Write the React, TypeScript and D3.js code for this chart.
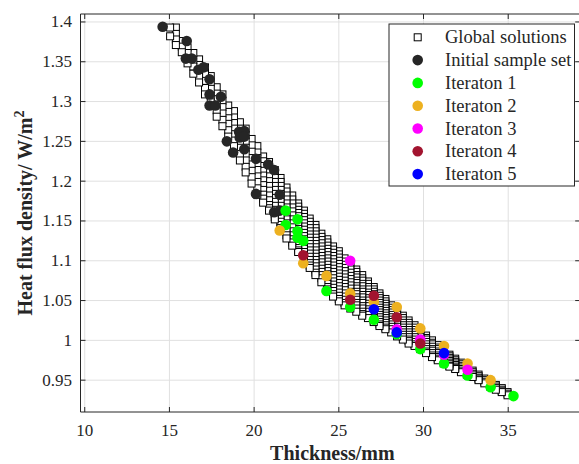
import React from 'react';
import * as d3 from 'd3';

const xTicks = [10, 15, 20, 25, 30, 35];
const yTicks = [0.95, 1, 1.05, 1.1, 1.15, 1.2, 1.25, 1.3, 1.35, 1.4];
const yTickLabels = ['0.95', '1', '1.05', '1.1', '1.15', '1.2', '1.25', '1.3', '1.35', '1.4'];

// Global solutions: thickness of each column and the heat-flux values of its squares
const globalThickness = [
  34.96, 34.62, 34.27, 33.93, 33.59, 33.25, 32.90, 32.56, 32.21, 31.87,
  31.53, 31.19, 30.84, 30.50, 30.15, 29.81, 29.47, 29.12, 28.78, 28.44,
  28.09, 27.75, 27.40, 27.06, 26.72, 26.38, 26.03, 25.68, 25.34, 25.00,
  24.66, 24.32, 23.97, 23.62, 23.28, 22.94, 22.60, 22.25, 21.91, 21.56,
  21.22, 20.88, 20.53, 20.19, 19.85, 19.50, 19.16, 18.81, 18.47, 18.13,
  17.79, 17.44, 17.10, 16.75, 16.41, 16.07, 15.73, 15.38, 15.04,
];
const globalFlux: number[][] = [
  [0.935, 0.933, 0.931],
  [0.940, 0.938, 0.936, 0.935],
  [0.944, 0.942, 0.940, 0.938],
  [0.949, 0.947, 0.945, 0.944, 0.942],
  [0.952, 0.950, 0.948, 0.946],
  [0.957, 0.955, 0.953, 0.951, 0.950],
  [0.962, 0.960, 0.958, 0.956, 0.954],
  [0.967, 0.965, 0.963, 0.961, 0.959, 0.957],
  [0.972, 0.970, 0.968, 0.966, 0.964, 0.962, 0.960],
  [0.977, 0.975, 0.973, 0.971, 0.969, 0.967, 0.965, 0.964],
  [0.982, 0.980, 0.978, 0.976, 0.974, 0.972, 0.970, 0.968, 0.967],
  [0.989, 0.986, 0.984, 0.981, 0.979, 0.976, 0.974, 0.971],
  [0.994, 0.991, 0.989, 0.986, 0.984, 0.981, 0.979, 0.977, 0.975],
  [1.000, 0.997, 0.995, 0.992, 0.989, 0.987, 0.984, 0.981, 0.979],
  [1.006, 1.003, 1.001, 0.998, 0.995, 0.992, 0.989, 0.986, 0.984],
  [1.013, 1.010, 1.007, 1.004, 1.001, 0.998, 0.995, 0.992, 0.989],
  [1.019, 1.016, 1.013, 1.010, 1.007, 1.004, 1.001, 0.998, 0.995, 0.993],
  [1.025, 1.022, 1.019, 1.016, 1.013, 1.010, 1.007, 1.004, 1.001, 0.999, 0.996],
  [1.031, 1.028, 1.025, 1.022, 1.019, 1.016, 1.013, 1.010, 1.007, 1.004, 1.001],
  [1.038, 1.035, 1.032, 1.029, 1.026, 1.023, 1.020, 1.017, 1.014, 1.011, 1.008, 1.005],
  [1.044, 1.041, 1.038, 1.035, 1.032, 1.029, 1.026, 1.023, 1.020, 1.017, 1.014, 1.010],
  [1.052, 1.049, 1.046, 1.043, 1.040, 1.037, 1.034, 1.031, 1.028, 1.025, 1.022, 1.019, 1.016, 1.014],
  [1.059, 1.056, 1.053, 1.050, 1.047, 1.044, 1.041, 1.038, 1.035, 1.032, 1.029, 1.026, 1.023, 1.020, 1.018],
  [1.067, 1.064, 1.061, 1.058, 1.055, 1.052, 1.049, 1.046, 1.043, 1.040, 1.037, 1.034, 1.031, 1.028, 1.025, 1.023],
  [1.074, 1.071, 1.067, 1.064, 1.060, 1.057, 1.053, 1.050, 1.046, 1.043, 1.039, 1.036, 1.032, 1.028],
  [1.082, 1.078, 1.075, 1.071, 1.068, 1.064, 1.061, 1.057, 1.054, 1.050, 1.047, 1.043, 1.040, 1.036, 1.033, 1.031],
  [1.089, 1.086, 1.082, 1.079, 1.075, 1.072, 1.068, 1.065, 1.061, 1.058, 1.054, 1.051, 1.047, 1.044, 1.040, 1.036],
  [1.097, 1.093, 1.089, 1.085, 1.081, 1.077, 1.073, 1.069, 1.065, 1.061, 1.057, 1.053, 1.049, 1.045, 1.040],
  [1.103, 1.099, 1.095, 1.091, 1.087, 1.083, 1.079, 1.075, 1.071, 1.067, 1.063, 1.059, 1.055, 1.051, 1.047, 1.044],
  [1.112, 1.108, 1.104, 1.100, 1.096, 1.092, 1.088, 1.084, 1.080, 1.076, 1.072, 1.068, 1.064, 1.060, 1.056, 1.052, 1.049],
  [1.118, 1.114, 1.110, 1.106, 1.102, 1.098, 1.094, 1.090, 1.086, 1.082, 1.078, 1.074, 1.070, 1.066, 1.062, 1.058, 1.055],
  [1.127, 1.123, 1.119, 1.115, 1.111, 1.107, 1.103, 1.099, 1.095, 1.091, 1.087, 1.083, 1.079, 1.075, 1.071, 1.067, 1.064],
  [1.134, 1.130, 1.126, 1.122, 1.118, 1.114, 1.110, 1.106, 1.102, 1.098, 1.094, 1.090, 1.086, 1.082, 1.078, 1.073],
  [1.145, 1.141, 1.137, 1.133, 1.129, 1.125, 1.121, 1.117, 1.113, 1.109, 1.105, 1.101, 1.097, 1.093, 1.089, 1.085, 1.082],
  [1.153, 1.149, 1.145, 1.141, 1.137, 1.133, 1.129, 1.125, 1.121, 1.117, 1.113, 1.109, 1.105, 1.101, 1.097, 1.094, 1.091],
  [1.163, 1.159, 1.155, 1.151, 1.147, 1.143, 1.139, 1.135, 1.131, 1.127, 1.123, 1.119, 1.115, 1.111, 1.107, 1.104, 1.101],
  [1.172, 1.168, 1.164, 1.160, 1.156, 1.152, 1.148, 1.144, 1.140, 1.136, 1.132, 1.128, 1.124, 1.120, 1.116, 1.113, 1.111],
  [1.182, 1.177, 1.172, 1.167, 1.162, 1.157, 1.152, 1.147, 1.142, 1.137, 1.132, 1.127, 1.123, 1.119],
  [1.192, 1.187, 1.182, 1.177, 1.172, 1.167, 1.162, 1.157, 1.152, 1.147, 1.142, 1.137, 1.132, 1.128],
  [1.204, 1.199, 1.194, 1.189, 1.184, 1.179, 1.174, 1.169, 1.164, 1.159, 1.154, 1.149, 1.145, 1.141],
  [1.214, 1.209, 1.204, 1.199, 1.194, 1.189, 1.184, 1.179, 1.174, 1.169, 1.164, 1.159, 1.155, 1.152],
  [1.224, 1.218, 1.212, 1.206, 1.200, 1.194, 1.188, 1.182, 1.176, 1.170, 1.166, 1.163],
  [1.231, 1.225, 1.219, 1.213, 1.207, 1.201, 1.195, 1.189, 1.183, 1.178, 1.173],
  [1.244, 1.236, 1.229, 1.221, 1.214, 1.206, 1.199, 1.191, 1.183],
  [1.253, 1.245, 1.237, 1.229, 1.221, 1.213, 1.205, 1.197],
  [1.266, 1.258, 1.250, 1.242, 1.234, 1.226, 1.218, 1.211],
  [1.274, 1.266, 1.258, 1.250, 1.242, 1.234, 1.226],
  [1.288, 1.280, 1.273, 1.266, 1.259, 1.251, 1.244],
  [1.295, 1.287, 1.279, 1.272, 1.264, 1.256],
  [1.309, 1.301, 1.293, 1.285, 1.277, 1.269],
  [1.318, 1.310, 1.303, 1.296, 1.289, 1.281],
  [1.332, 1.324, 1.316, 1.307, 1.299],
  [1.343, 1.334, 1.326, 1.317, 1.309],
  [1.353, 1.346, 1.338, 1.331, 1.324],
  [1.361, 1.352, 1.344, 1.335],
  [1.368, 1.361, 1.354, 1.348],
  [1.376, 1.369, 1.362],
  [1.393, 1.385, 1.378, 1.371],
  [1.393, 1.382],
];

const initialThickness = [14.60, 16.02, 15.97, 16.32, 16.71, 17.02, 17.37, 17.37, 18.04, 17.37, 17.71, 19.11, 19.42, 19.15, 19.42, 18.39, 18.76, 19.42, 20.11, 20.83, 21.18, 20.11, 21.51, 21.18, 21.51];
const initialFlux = [1.394, 1.376, 1.354, 1.354, 1.340, 1.343, 1.328, 1.309, 1.306, 1.295, 1.295, 1.262, 1.263, 1.255, 1.256, 1.250, 1.236, 1.240, 1.228, 1.221, 1.214, 1.184, 1.183, 1.161, 1.163];

const iter1Thickness = [21.86, 22.56, 21.86, 22.56, 22.56, 22.90, 24.27, 25.67, 27.07, 28.42, 29.81, 31.21, 32.60, 33.96, 35.31];
const iter1Flux = [1.163, 1.152, 1.145, 1.137, 1.129, 1.125, 1.062, 1.042, 1.026, 1.008, 0.989, 0.971, 0.956, 0.941, 0.930];

const iter2Thickness = [21.51, 22.90, 24.27, 25.67, 27.07, 28.42, 29.81, 31.21, 32.60, 33.96];
const iter2Flux = [1.138, 1.097, 1.081, 1.059, 1.048, 1.042, 1.015, 0.993, 0.971, 0.950];

const iter3Thickness = [25.67, 28.42, 29.81, 31.21, 32.60];
const iter3Flux = [1.100, 1.014, 1.001, 0.982, 0.963];

const iter4Thickness = [22.90, 25.67, 27.07, 28.42, 29.81];
const iter4Flux = [1.107, 1.051, 1.056, 1.029, 0.996];

const iter5Thickness = [27.07, 28.42, 31.21];
const iter5Flux = [1.039, 1.010, 0.984];

const seriesNames = ['Initial sample set', 'Iteraton 1', 'Iteraton 2', 'Iteraton 3', 'Iteraton 4', 'Iteraton 5'];
const seriesColors = ['#262626', '#00FF00', '#EDB120', '#FF00FF', '#A2142F', '#0000FF'];
const seriesThickness = [initialThickness, iter1Thickness, iter2Thickness, iter3Thickness, iter4Thickness, iter5Thickness];
const seriesFlux = [initialFlux, iter1Flux, iter2Flux, iter3Flux, iter4Flux, iter5Flux];

const W = 579;
const H = 464;
const PL = 80.5;
const PR = 580.2;
const PT = 14;
const PB = 412;
const FONT = '"Liberation Serif", "Times New Roman", serif';
const AX = '#262626';

export default function App() {
  const x = d3.scaleLinear().domain([9.75, 39.25]).range([PL, PR]);
  const y = d3.scaleLinear().domain([0.91, 1.41]).range([PB, PT]);
  const sq = 7;
  const r = 5.3;
  const tickLen = 5;

  const legendX = 389;
  const legendY = 24;
  const legendW = 185.5;
  const legendH = 162;
  const rowH = 22.8;
  const legendItems = ['Global solutions', ...seriesNames];

  return (
    <svg width={W} height={H} style={{ position: 'absolute', left: 0, top: 0, background: '#fff' }}>
      <rect x={0} y={0} width={W} height={H} fill="#fff" />
      {/* grid */}
      <g stroke="#e0e0e0" strokeWidth={1}>
        {xTicks.map((t) => (
          <line key={'gx' + t} x1={x(t)} x2={x(t)} y1={PT} y2={PB} />
        ))}
        {yTicks.map((t) => (
          <line key={'gy' + t} x1={PL} x2={PR} y1={y(t)} y2={y(t)} />
        ))}
      </g>
      {/* global solutions */}
      <g fill="#fff" stroke="#000" strokeWidth={1}>
        {globalThickness.map((t, i) =>
          globalFlux[i].map((f, j) => (
            <rect key={'g' + i + '_' + j} x={x(t) - sq / 2} y={y(f) - sq / 2} width={sq} height={sq} />
          ))
        )}
      </g>
      {/* sample sets */}
      {seriesThickness.map((ts, s) => (
        <g key={'s' + s} fill={seriesColors[s]}>
          {ts.map((t, i) => (
            <circle key={i} cx={x(t)} cy={y(seriesFlux[s][i])} r={r} />
          ))}
        </g>
      ))}
      {/* axes box */}
      <g stroke={AX} strokeWidth={1} fill="none">
        <line x1={PL} x2={PR} y1={PB} y2={PB} />
        <line x1={PL} x2={PR} y1={PT} y2={PT} />
        <line x1={PL} x2={PL} y1={PT} y2={PB} />
        <line x1={PR} x2={PR} y1={PT} y2={PB} />
        {xTicks.map((t) => (
          <g key={'tx' + t}>
            <line x1={x(t)} x2={x(t)} y1={PB} y2={PB - tickLen} />
            <line x1={x(t)} x2={x(t)} y1={PT} y2={PT + tickLen} />
          </g>
        ))}
        {yTicks.map((t) => (
          <g key={'ty' + t}>
            <line x1={PL} x2={PL + tickLen} y1={y(t)} y2={y(t)} />
            <line x1={PR} x2={PR - tickLen} y1={y(t)} y2={y(t)} />
          </g>
        ))}
      </g>
      {/* tick labels */}
      <g fontFamily={FONT} fontSize={17} fill={AX}>
        {xTicks.map((t) => (
          <text key={'lx' + t} x={x(t)} y={436} textAnchor="middle">
            {t}
          </text>
        ))}
        {yTicks.map((t, i) => (
          <text key={'ly' + t} x={72} y={y(t) + 5.5} textAnchor="end">
            {yTickLabels[i]}
          </text>
        ))}
      </g>
      {/* axis labels */}
      <text x={(PL + PR) / 2 + 2} y={460} textAnchor="middle" fontFamily={FONT} fontSize={20} fontWeight="bold" fill={AX}>
        Thickness/mm
      </text>
      <text
        transform={`translate(32, ${(PT + PB) / 2}) rotate(-90)`}
        textAnchor="middle"
        fontFamily={FONT}
        fontSize={20}
        fontWeight="bold"
        fill={AX}
      >
        Heat flux density/ W/m<tspan dy={-8} fontSize={14}>2</tspan>
      </text>
      {/* legend */}
      <g>
        <rect x={legendX} y={legendY} width={legendW} height={legendH} fill="#fff" stroke={AX} strokeWidth={1} />
        {legendItems.map((name, i) => {
          const cy = 37.3 + i * rowH;
          return (
            <g key={'lg' + i}>
              {i === 0 ? (
                <rect x={417.7 - sq / 2} y={cy - sq / 2} width={sq} height={sq} fill="#fff" stroke="#000" strokeWidth={1} />
              ) : (
                <circle cx={417.7} cy={cy} r={r} fill={seriesColors[i - 1]} />
              )}
              <text x={445} y={cy + 6} fontFamily={FONT} fontSize={18.5} fill={AX}>
                {name}
              </text>
            </g>
          );
        })}
      </g>
    </svg>
  );
}
